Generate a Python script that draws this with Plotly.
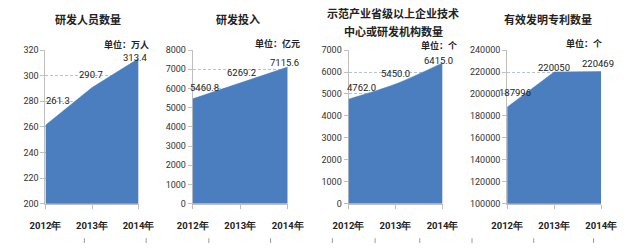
import plotly.graph_objects as go

W, H = 640, 248

years = ["2012年", "2013年", "2014年"]

titles = ["研发人员数量", "研发投入", ["示范产业省级以上企业技术", "中心或研发机构数量"], "有效发明专利数量"]
units = ["单位：万人", "单位：亿元", "单位：个", "单位：个"]

rd_staff = [261.3, 290.7, 313.4]
rd_invest = [5460.8, 6269.2, 7115.6]
rd_centers = [4762.0, 5450.0, 6415.0]
patents = [187996, 220050, 220469]

label_text = [
    ["261.3", "290.7", "313.4"],
    ["5460.8", "6269.2", "7115.6"],
    ["4762.0", "5450.0", "6415.0"],
    ["187996", "220050", "220469"],
]

y_ranges = [(200, 320, 20), (0, 8000, 1000), (0, 7000, 1000), (100000, 240000, 20000)]

# layout (pixels)
x_dom_px = [(31, 129), (186, 286), (350, 449), (517, 616)]
y_dom_px = (47, 207)
title_pos = [[(76, 15)], [(234, 15)], [(397, 8), (397, 27)], [(560, 15)]]
unit_pos = [(116.5, 41), (275, 40), (445, 42), (597.5, 40)]
label_shift = [
    [(13, 25), (-1, 13), (-3, 1)],
    [(11.5, 11), (1, 10.5), (-3.5, 5)],
    [(12.5, 12), (0, 11), (-4, 2)],
    [(8, 15), (0, 4), (-3.5, 8)],
]
shapes_spline = [False, False, True, False]
bottom_marks = [72, 137, 203, 268, 333, 378, 425, 480, 545, 608]

series = [rd_staff, rd_invest, rd_centers, patents]

FILL = "#4A7EBE"
GRID = "#B4C4E0"
AXIS = "#BFBFBF"
NUMFONT = "Liberation Sans Narrow, Roboto, Liberation Sans, Arial"
CJK = "Noto Sans CJK SC"

fig = go.Figure()
annotations = []
shapes = []

def px(x):
    return x / W

def py(y):
    return 1 - y / H

for i, vals in enumerate(series):
    sfx = "" if i == 0 else str(i + 1)
    xa = "x" + sfx
    ya = "y" + sfx
    fig.add_trace(go.Scatter(
        x=list(range(len(years))), y=vals, mode="lines", fill="tozeroy",
        line=dict(color=FILL, width=0.5, shape="spline" if shapes_spline[i] else "linear",
                  smoothing=0.8),
        fillcolor=FILL, xaxis=xa, yaxis=ya, showlegend=False, hoverinfo="skip",
    ))
    lo, hi, step = y_ranges[i]
    fig.layout["xaxis" + sfx] = dict(
        domain=[px(x_dom_px[i][0]), px(x_dom_px[i][1])],
        anchor=ya, range=[0, 2], tickmode="array",
        tickvals=list(range(len(years))), ticktext=years,
        showgrid=False, zeroline=False, showline=True, linecolor=AXIS, linewidth=1,
        ticks="outside", ticklen=4, tickcolor=AXIS, ticklabelstandoff=9,
        tickfont=dict(family=NUMFONT, size=9.5, color="#222", weight="bold"), fixedrange=True,
    )
    fig.layout["yaxis" + sfx] = dict(
        domain=[py(y_dom_px[1]), py(y_dom_px[0])],
        anchor=xa, range=[lo, hi], dtick=step, tick0=lo, tickformat="d",
        showgrid=True, gridcolor=GRID, griddash="3px,2px", gridwidth=1,
        zeroline=False, showline=True, linecolor=AXIS, linewidth=1,
        ticks="outside", ticklen=4, tickcolor=AXIS,
        tickfont=dict(family=NUMFONT, size=9, color="#333"), fixedrange=True,
        layer="below traces",
    )
    # title
    lines = titles[i] if isinstance(titles[i], list) else [titles[i]]
    for t, (tx, ty) in zip(lines, title_pos[i]):
        annotations.append(dict(
            xref="paper", yref="paper", x=px(tx), y=py(ty),
            text="<b>" + t + "</b>", showarrow=False, xanchor="center", yanchor="middle",
            font=dict(family=CJK, size=11, color="#222"),
        ))
    # unit
    annotations.append(dict(
        xref="paper", yref="paper", x=px(unit_pos[i][0]), y=py(unit_pos[i][1]),
        text="<b>" + units[i] + "</b>", showarrow=False, xanchor="center", yanchor="middle",
        font=dict(family=CJK, size=9, color="#222"),
    ))
    # data labels
    for j, v in enumerate(vals):
        dx, dy = label_shift[i][j]
        annotations.append(dict(
            xref=xa, yref=ya, x=j, y=v, text=label_text[i][j], showarrow=False,
            xanchor="center", yanchor="middle", xshift=dx, yshift=dy,
            font=dict(family=NUMFONT, size=9.5, color="#222"),
        ))

for mx in bottom_marks:
    shapes.append(dict(type="line", xref="paper", yref="paper",
                       x0=px(mx), x1=px(mx), y0=py(243), y1=py(248),
                       line=dict(color="#9A9A9A", width=1)))

fig.update_layout(
    width=W, height=H, margin=dict(l=0, r=0, t=0, b=0),
    paper_bgcolor="white", plot_bgcolor="white",
    annotations=annotations, shapes=shapes,
)

fig.write_html("out.html")
